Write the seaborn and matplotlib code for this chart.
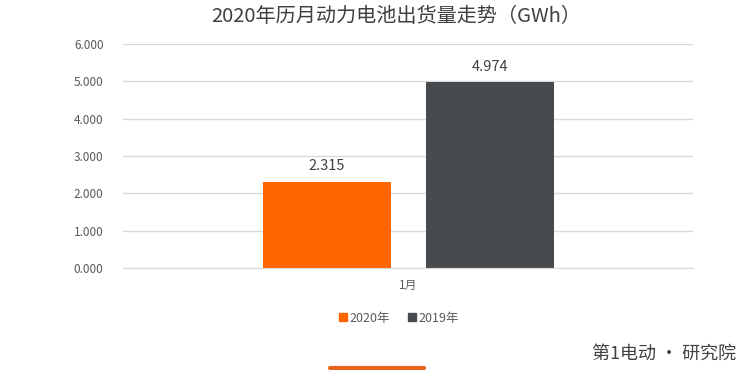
import matplotlib
matplotlib.use("Agg")
import matplotlib.pyplot as plt
import seaborn as sns
import pandas as pd
from matplotlib.lines import Line2D

# chart data
months = ["1月"]
series = ["2020年", "2019年"]
values_2020 = [2.315]
values_2019 = [4.974]
colors = ["#FF6600", "#474B4E"]

df = pd.DataFrame({
    "month": months * 2,
    "series": [series[0]] * len(months) + [series[1]] * len(months),
    "value": values_2020 + values_2019,
})

sns.set_style("white")
plt.rcParams["font.family"] = ["Noto Sans CJK SC", "DejaVu Sans"]

fig = plt.figure(figsize=(7.55, 3.70), dpi=100)
ax = fig.add_axes([0.163, 0.276, 0.755, 0.605])

sns.barplot(data=df, x="month", y="value", hue="series", palette=colors,
            saturation=1, width=0.572, gap=0.215, ax=ax, legend=False,
            linewidth=0)

ax.set_ylim(0, 6)
ax.set_xlim(-0.5, 0.5)
ax.set_yticks([0, 1, 2, 3, 4, 5, 6])
ax.set_yticklabels([f"{v:.3f}" for v in range(7)])
ax.yaxis.grid(True, color="#D9D9D9", linewidth=1)
ax.set_axisbelow(True)
for s in ["top", "right", "left"]:
    ax.spines[s].set_visible(False)
ax.spines["bottom"].set_color("#D9D9D9")
ax.tick_params(axis="both", length=0, labelsize=8.5, colors="#595959", pad=8)
ax.tick_params(axis="y", pad=14)
ax.set_xlabel("")
ax.set_ylabel("")

for cont in ax.containers:
    ax.bar_label(cont, fmt="%.3f", padding=6, fontsize=10.5, color="#404040")

handles = [Line2D([], [], marker="s", linestyle="", color=c, markersize=6) for c in colors]
fig.legend(handles, series, loc="center", bbox_to_anchor=(0.525, 0.14), ncol=2,
           frameon=False, fontsize=9, handletextpad=-0.2, columnspacing=1.0,
           handlelength=1.5, labelcolor="#595959")

fig.suptitle("2020年历月动力电池出货量走势（GWh）", x=0.525, y=0.985,
             fontsize=14.5, color="#404040")

# brand mark bottom right
fig.text(0.975, 0.045, "第1电动 · 研究院", ha="right", va="center",
         fontsize=13, color="#404040")
fig.add_artist(Line2D([0.437, 0.561], [0.006, 0.006], color="#E8641E",
                      linewidth=3, transform=fig.transFigure))

fig.savefig("out.png", dpi=100)
